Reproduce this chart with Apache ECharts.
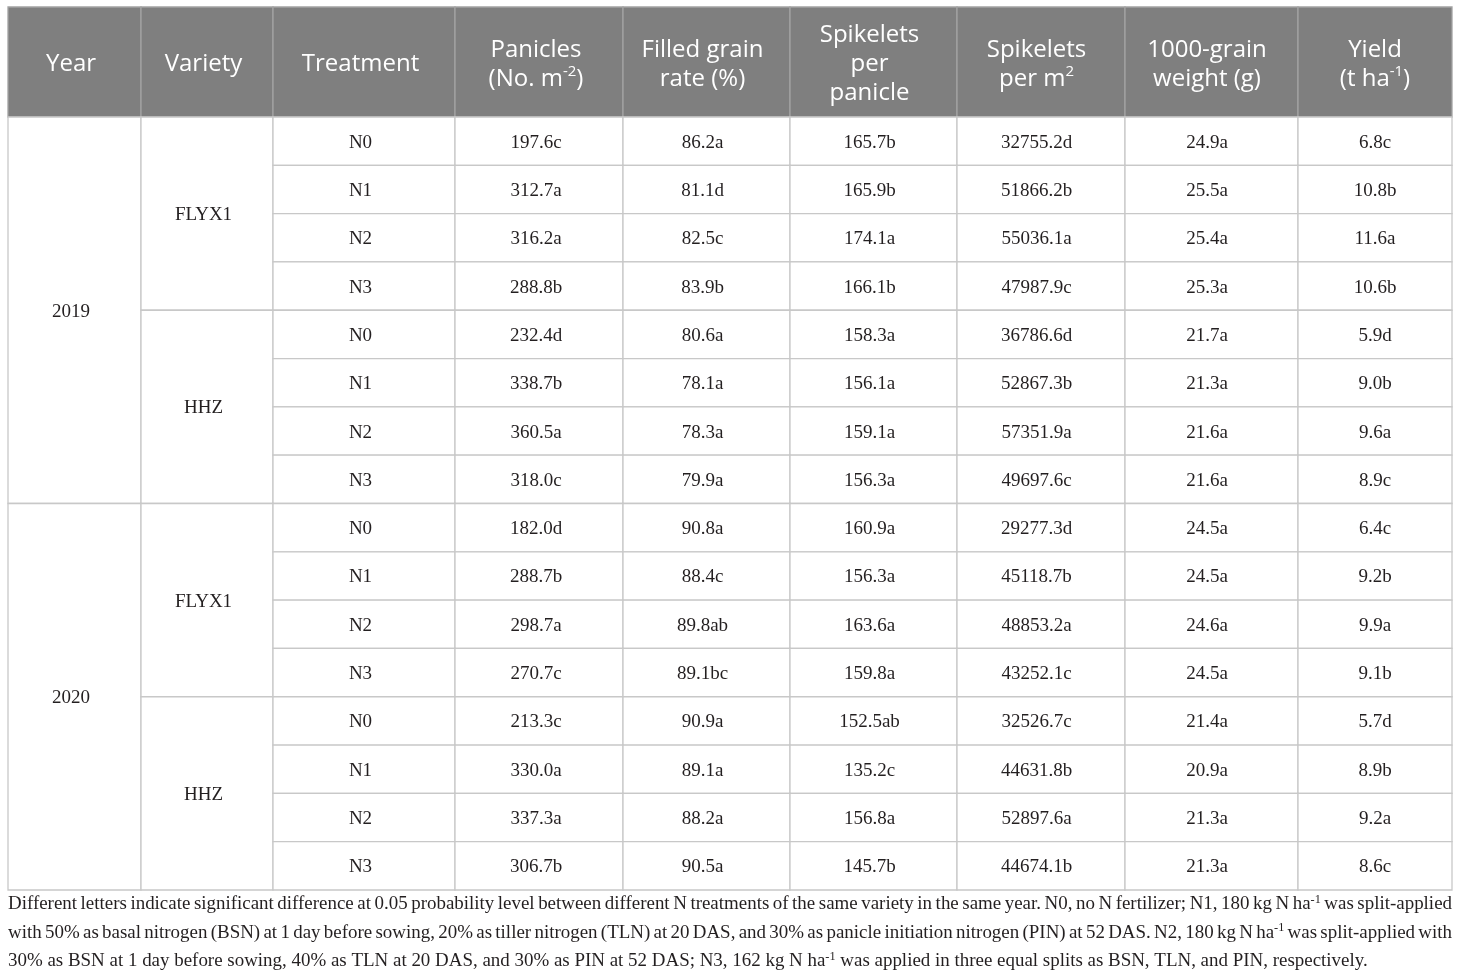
<!DOCTYPE html>
<html>
<head>
<meta charset="utf-8">
<script src="https://cdn.jsdelivr.net/npm/echarts@6/dist/echarts.min.js"></script>
<style>
    html, body { margin: 0; padding: 0; background: #ffffff; }
    #table { width: 1460px; height: 978px; }
</style>
</head>
<body>
<div id="table"></div>
<script>
// ---- data ----
const years = ['2019', '2020'];
const varieties = ['FLYX1', 'HHZ'];
const treatments = ['N0', 'N1', 'N2', 'N3'];
const headers = [
    'Year',
    'Variety',
    'Treatment',
    'Panicles\n(No. m{sup|-2})',
    'Filled grain\nrate (%)',
    'Spikelets\nper\npanicle',
    'Spikelets\nper m{sup|2}',
    '1000-grain\nweight (g)',
    'Yield\n(t ha{sup|-1})'
];
const panicles = ['197.6c', '312.7a', '316.2a', '288.8b', '232.4d', '338.7b', '360.5a', '318.0c',
    '182.0d', '288.7b', '298.7a', '270.7c', '213.3c', '330.0a', '337.3a', '306.7b'];
const filledGrainRate = ['86.2a', '81.1d', '82.5c', '83.9b', '80.6a', '78.1a', '78.3a', '79.9a',
    '90.8a', '88.4c', '89.8ab', '89.1bc', '90.9a', '89.1a', '88.2a', '90.5a'];
const spikeletsPerPanicle = ['165.7b', '165.9b', '174.1a', '166.1b', '158.3a', '156.1a', '159.1a', '156.3a',
    '160.9a', '156.3a', '163.6a', '159.8a', '152.5ab', '135.2c', '156.8a', '145.7b'];
const spikeletsPerM2 = ['32755.2d', '51866.2b', '55036.1a', '47987.9c', '36786.6d', '52867.3b', '57351.9a', '49697.6c',
    '29277.3d', '45118.7b', '48853.2a', '43252.1c', '32526.7c', '44631.8b', '52897.6a', '44674.1b'];
const grainWeight = ['24.9a', '25.5a', '25.4a', '25.3a', '21.7a', '21.3a', '21.6a', '21.6a',
    '24.5a', '24.5a', '24.6a', '24.5a', '21.4a', '20.9a', '21.3a', '21.3a'];
const yieldValues = ['6.8c', '10.8b', '11.6a', '10.6b', '5.9d', '9.0b', '9.6a', '8.9c',
    '6.4c', '9.2b', '9.9a', '9.1b', '5.7d', '8.9b', '9.2a', '8.6c'];
const footnoteLines = [
    'Different letters indicate significant difference at 0.05 probability level between different N treatments of the same variety in the same year. N0, no N fertilizer; N1, 180 kg N ha{sup|-1} was split-applied',
    'with 50% as basal nitrogen (BSN) at 1 day before sowing, 20% as tiller nitrogen (TLN) at 20 DAS, and 30% as panicle initiation nitrogen (PIN) at 52 DAS. N2, 180 kg N ha{sup|-1} was split-applied with',
    '30% as BSN at 1 day before sowing, 40% as TLN at 20 DAS, and 30% as PIN at 52 DAS; N3, 162 kg N ha{sup|-1} was applied in three equal splits as BSN, TLN, and PIN, respectively.'
];

// ---- layout ----
const tableLeft = 8;
const tableWidth = 1444;
const colEdges = [0, 133, 265, 447, 615, 782, 949, 1117, 1290, 1444];
// text sits a little left of centre in every column but the last
const colTextShift = [-3.5, -3.5, -3.5, -3, -4, -4, -4.5, -4.5, 0];
const serif = '"Liberation Serif", "Times New Roman", serif';
const sans = '"Open Sans", "Noto Sans", sans-serif';
const bodyText = '#231f20';
const gridLine = '#c8c8c8';

// cells: [column, firstRow, rowSpan, text]
const valueColumns = [panicles, filledGrainRate, spikeletsPerPanicle, spikeletsPerM2, grainWeight, yieldValues];
const bodyCells = [];
years.forEach((year, yi) => {
    bodyCells.push([0, yi * 8, 8, year]);
    varieties.forEach((variety, vi) => {
        const start = yi * 8 + vi * 4;
        bodyCells.push([1, start, 4, variety]);
        treatments.forEach((t, ti) => {
            const row = start + ti;
            bodyCells.push([2, row, 1, t]);
            valueColumns.forEach((values, ci) => {
                bodyCells.push([3 + ci, row, 1, values[row]]);
            });
        });
    });
});
const headerCells = headers.map((h, i) => [i, 0, 1, h]);

function cellRenderer(cells, look) {
    return function (params, api) {
        const cell = cells[params.dataIndex];
        const col = cell[0], row = cell[1], span = cell[2];
        const p0 = api.coord([colEdges[col], row]);
        const p1 = api.coord([colEdges[col + 1], row + span]);
        return {
            type: 'group',
            children: [
                {
                    type: 'rect',
                    shape: { x: p0[0], y: p0[1], width: p1[0] - p0[0], height: p1[1] - p0[1] },
                    style: { fill: look.fill, stroke: look.stroke, lineWidth: 1.3 }
                },
                {
                    type: 'text',
                    style: Object.assign({
                        text: cell[3],
                        x: (p0[0] + p1[0]) / 2 + colTextShift[col],
                        y: (p0[1] + p1[1]) / 2 + look.dy,
                        align: 'center',
                        verticalAlign: 'middle'
                    }, look.text)
                }
            ]
        };
    };
}

// footnote: size the type so the last line ends where the reference does,
// then justify the first two lines to the table width
const measureCtx = document.createElement('canvas').getContext('2d');
function tokenWidth(token, size) {
    let w = 0;
    token.split(/(\{sup\|[^}]*\})/).forEach((part) => {
        if (!part) return;
        const m = part.match(/^\{sup\|([^}]*)\}$/);
        measureCtx.font = (m ? size * 0.65 : size) + 'px ' + serif;
        w += measureCtx.measureText(m ? m[1] : part).width;
    });
    return w;
}
const lastLineWidth = 1360;
const noteSize = Math.min(20, 16 * lastLineWidth / tokenWidth(footnoteLines[2], 16));
const supSize = noteSize * 0.65;

function justify(line) {
    const tokens = line.split(' ');
    const used = tokens.reduce((s, t) => s + tokenWidth(t, noteSize), 0);
    const gap = (tableWidth - used) / (tokens.length - 1);
    return { text: tokens.join('{gap| }'), gap: gap };
}

const chart = echarts.init(document.getElementById('table'), null, { renderer: 'canvas' });

const footnoteGraphics = footnoteLines.map((line, i) => {
    const last = i === footnoteLines.length - 1;
    const j = last ? { text: line, gap: 4 } : justify(line);
    return {
        type: 'text',
        left: tableLeft,
        top: 893.5 + i * 28.5,
        style: {
            text: j.text,
            fill: bodyText,
            font: noteSize + 'px ' + serif,
            lineHeight: 22,
            rich: {
                sup: { fontSize: supSize, fontFamily: serif, fill: bodyText, lineHeight: 11, verticalAlign: 'top' },
                gap: { width: j.gap, fontSize: noteSize, fontFamily: serif, lineHeight: 22 }
            }
        }
    };
});

chart.setOption({
    animation: false,
    backgroundColor: '#ffffff',
    grid: [
        { left: tableLeft, top: 7, width: tableWidth, height: 110 },
        { left: tableLeft, top: 117, width: tableWidth, height: 773 }
    ],
    xAxis: [0, 1].map((i) => ({
        type: 'value', gridIndex: i, min: 0, max: tableWidth, show: false
    })),
    yAxis: [
        { type: 'value', gridIndex: 0, min: 0, max: 1, inverse: true, show: false },
        { type: 'value', gridIndex: 1, min: 0, max: 16, inverse: true, show: false }
    ],
    series: [
        {
            name: 'header',
            type: 'custom',
            xAxisIndex: 0,
            yAxisIndex: 0,
            encode: { x: 0, y: 1 },
            renderItem: cellRenderer(headerCells, {
                fill: '#7f7f7f',
                stroke: '#a3a3a3',
                dy: 2.5,
                text: {
                    fill: '#ffffff',
                    fontSize: 24,
                    fontFamily: sans,
                    lineHeight: 29,
                    rich: {
                        sup: { fontSize: 15, fontFamily: sans, fill: '#ffffff', lineHeight: 13, verticalAlign: 'top' }
                    }
                }
            }),
            data: headerCells
        },
        {
            name: 'body',
            type: 'custom',
            xAxisIndex: 1,
            yAxisIndex: 1,
            encode: { x: 0, y: 1 },
            renderItem: cellRenderer(bodyCells, {
                fill: '#ffffff',
                stroke: gridLine,
                dy: 1.5,
                text: { fill: bodyText, fontSize: 19, fontFamily: serif }
            }),
            data: bodyCells
        }
    ],
    graphic: footnoteGraphics
});
</script>
</body>
</html>
